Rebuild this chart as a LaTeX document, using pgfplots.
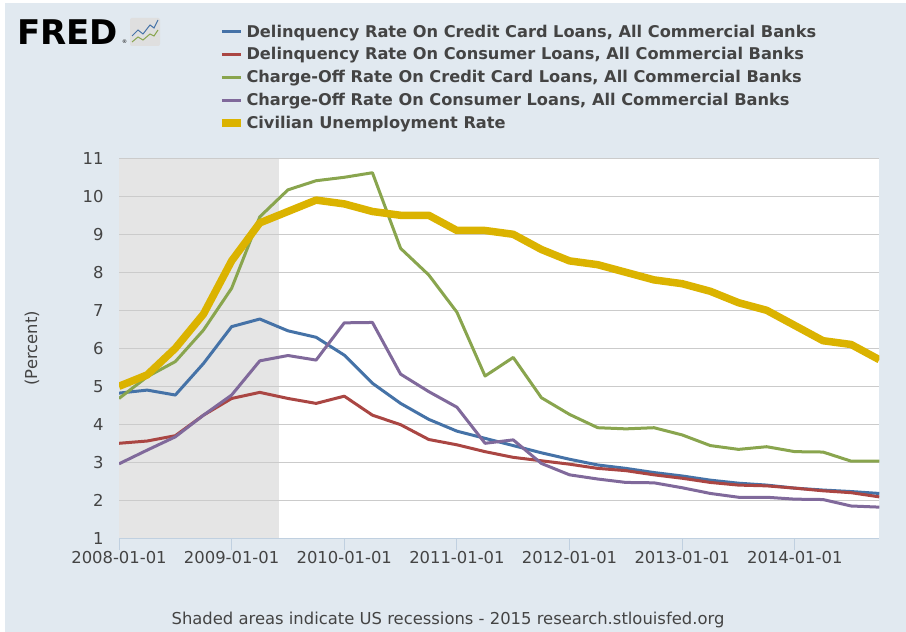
\documentclass[border=0pt]{standalone}
\usepackage{pgfplots}
\pgfplotsset{compat=1.18}
\usepackage{pgfplotstable}
\usepackage{fontspec}
\setmainfont{DejaVu Sans}

\definecolor{bgblue}{HTML}{E1E9F0}
\definecolor{shade}{HTML}{E5E5E5}
\definecolor{gridgray}{HTML}{CBCBCB}
\definecolor{tickblue}{HTML}{C0D0E0}
\definecolor{txt}{HTML}{444444}
\definecolor{fblue}{HTML}{4572A7}
\definecolor{fred}{HTML}{AA4643}
\definecolor{fgreen}{HTML}{89A54E}
\definecolor{fpurple}{HTML}{80699B}
\definecolor{fyellow}{HTML}{DBB300}

\pgfplotsset{set layers}

% quarters since 2008-01-01
\pgfplotstableread{
q  dccl  dcl   cccl   ccl   unrate
0  4.82  3.50  4.68   2.96  5.0
1  4.90  3.56  5.25   3.32  5.3
2  4.77  3.70  5.65   3.67  6.0
3  5.60  4.24  6.48   4.24  6.9
4  6.57  4.68  7.58   4.77  8.3
5  6.77  4.84  9.46   5.67  9.3
6  6.46  4.68  10.17  5.81  9.6
7  6.29  4.55  10.41  5.69  9.9
8  5.82  4.74  10.50  6.67  9.8
9  5.08  4.24  10.62  6.68  9.6
10 4.55  3.99  8.63   5.32  9.5
11 4.13  3.60  7.93   4.86  9.5
12 3.82  3.46  6.95   4.45  9.1
13 3.63  3.28  5.27   3.50  9.1
14 3.44  3.13  5.76   3.59  9.0
15 3.25  3.04  4.70   2.97  8.6
16 3.08  2.95  4.26   2.67  8.3
17 2.93  2.84  3.91   2.56  8.2
18 2.84  2.78  3.88   2.47  8.0
19 2.73  2.67  3.91   2.46  7.8
20 2.64  2.58  3.72   2.33  7.7
21 2.53  2.47  3.44   2.18  7.5
22 2.45  2.40  3.34   2.08  7.2
23 2.40  2.38  3.41   2.08  7.0
24 2.32  2.32  3.28   2.03  6.6
25 2.27  2.25  3.27   2.02  6.2
26 2.23  2.20  3.03   1.85  6.1
27 2.18  2.09  3.03   1.82  5.7
}\rates

\begin{document}
\begin{tikzpicture}
  \begin{pgfonlayer}{axis background}
    \fill[white] (0pt,0pt) rectangle (906pt,632pt);
    \fill[bgblue] (5pt,0pt) rectangle (906pt,629pt);
  \end{pgfonlayer}

  % FRED logo
  \node[anchor=west, inner sep=0pt, text=black, font=\fontsize{34}{34}\selectfont\bfseries] at (17pt,600pt) {FRED};
  \node[anchor=west, inner sep=0pt, text=black, font=\fontsize{5}{5}\selectfont] at (122pt,590pt) {\textregistered};
  \fill[gray!25, rounded corners=2pt] (130pt,586pt) rectangle (160pt,614pt);
  \draw[fblue, line width=1pt] (132pt,596pt) -- (138pt,602pt) -- (143pt,598pt) -- (150pt,607pt) -- (154pt,604pt) -- (158pt,612pt);
  \draw[fgreen, line width=1pt] (132pt,590pt) -- (138pt,595pt) -- (143pt,592pt) -- (150pt,598pt) -- (154pt,596pt) -- (158pt,602pt);

  \begin{axis}[
      at={(119pt,93.7pt)}, anchor=south west,
      width=760.3pt, height=380pt, scale only axis,
      axis background/.style={fill=white},
      xmin=0, xmax=27, ymin=1, ymax=11,
      xtick={0,4,8,12,16,20,24},
      xticklabels={2008-01-01,2009-01-01,2010-01-01,2011-01-01,2012-01-01,2013-01-01,2014-01-01},
      ytick={1,2,...,11},
      ymajorgrids,
      major grid style={draw=gridgray, line width=1.5pt},
      axis x line*=bottom, axis y line*=left,
      y axis line style={draw=none},
      x axis line style={draw=tickblue, line width=1pt},
      xtick style={draw=tickblue, line width=1pt},
      ytick style={draw=none},
      tick align=outside, major tick length=12pt,
      /pgf/number format/assume math mode=true,
      tick label style={text=txt, font=\fontsize{16.4}{19}\selectfont},
      xticklabel style={yshift=3pt},
      ylabel={(Percent)},
      every axis y label/.style={at={(axis description cs:-0.1145,0.5)}, rotate=90, anchor=center,
        text=txt, font=\fontsize{16.4}{19}\selectfont},
      legend cell align=left,
      legend style={
        at={(axis description cs:0.13,1.357)}, anchor=north west,
        draw=none, fill=none, inner sep=0pt,
        font=\bfseries\fontsize{16.2}{19}\selectfont, text=txt,
        row sep=5pt,
      },
      legend image code/.code={\draw[#1] (0pt,0pt) -- (19pt,0pt);},
    ]
    % recession: 2008-01-01 to 2009-06-01
    \addplot[on layer=axis background, draw=none, fill=shade, forget plot]
      coordinates {(0,1) (5.667,1) (5.667,11) (0,11)} -- cycle;
    \addplot[fblue, line width=3pt, line join=round] table[x=q, y=dccl] {\rates};
    \addplot[fred, line width=3pt, line join=round] table[x=q, y=dcl] {\rates};
    \addplot[fgreen, line width=3pt, line join=round] table[x=q, y=cccl] {\rates};
    \addplot[fpurple, line width=3pt, line join=round] table[x=q, y=ccl] {\rates};
    \addplot[fyellow, line width=7.5pt, line join=round] table[x=q, y=unrate] {\rates};
    \legend{Delinquency Rate On Credit Card Loans{,} All Commercial Banks,
            Delinquency Rate On Consumer Loans{,} All Commercial Banks,
            Charge-Off Rate On Credit Card Loans{,} All Commercial Banks,
            Charge-Off Rate On Consumer Loans{,} All Commercial Banks,
            Civilian Unemployment Rate}
  \end{axis}

  \node[text=txt, font=\fontsize{16.4}{19}\selectfont] at (448pt,12pt)
    {Shaded areas indicate US recessions - 2015 research.stlouisfed.org};
\end{tikzpicture}
\end{document}
